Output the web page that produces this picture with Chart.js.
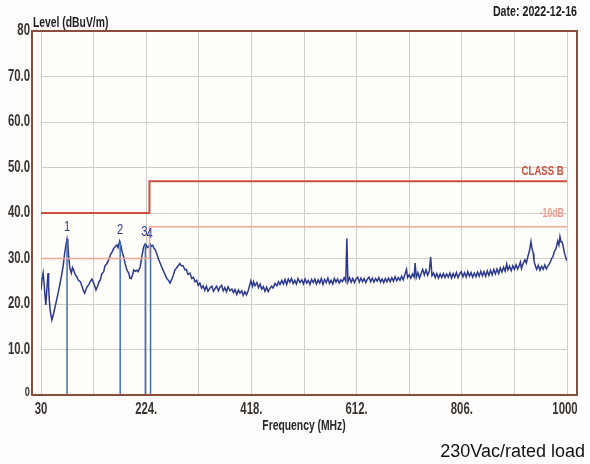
<!DOCTYPE html>
<html>
<head>
<meta charset="utf-8">
<script src="https://cdn.jsdelivr.net/npm/chart.js@4"></script>
<style>
  html, body { margin: 0; padding: 0; background: #fefdfb; }
  #emiChart { display: block; }
</style>
</head>
<body>
<canvas id="emiChart" width="590" height="464"></canvas>
<script>
const freqs = [
  30, 32, 34, 36, 38, 39, 41, 43, 44, 45.3, 47, 50, 53, 56, 59, 62.6, 65, 68.7, 71, 73.6,
  76, 78, 79.5, 81, 83, 86, 88, 90, 93, 96, 99, 102.5, 106, 108, 110.5, 113, 115, 118, 121, 124,
  127, 129, 131.4, 134, 137, 139.4, 142, 145.6, 148, 151, 154.8, 158, 161, 164, 167, 170, 172, 175, 177, 179.5,
  182.4, 185, 188, 191.7, 194, 196.5, 199, 201, 204, 207, 209, 211, 213, 216, 219.4, 222, 224, 226, 228.6, 231,
  233.4, 236, 238, 240.8, 244, 247, 250, 253, 256, 259, 262, 265, 268, 271, 274, 277, 280, 283, 286, 289,
  292, 295.5, 298, 301, 304.7, 308, 311, 314, 317, 320, 323, 326, 329, 332, 335, 338, 341.6, 345, 348, 351,
  354, 357, 360, 363, 366, 369, 372, 375, 378.5, 382, 385, 387.7, 391, 394, 397, 400, 403, 406, 409, 412,
  414, 417, 420, 422, 424.6, 428, 431, 434, 437, 440, 443, 446, 449, 452, 455, 458, 461.5, 465, 468, 470.7,
  474, 477, 480, 483, 486, 489, 492, 495, 498, 501, 504, 507.6, 511, 514, 517, 520, 523, 526, 529, 532,
  535, 538, 541, 544, 547, 550, 553, 556, 559, 562, 565, 568, 571, 574, 577, 580, 583, 586, 589, 592,
  594, 596, 599, 602, 605, 608, 611, 614, 617, 620, 623, 626, 629, 632, 635, 638, 641, 644, 647, 650,
  653, 656, 659, 662, 665, 668, 671, 674, 677, 680, 683, 686, 689, 692, 695, 698, 701, 704, 706, 709,
  712, 715, 718, 720, 722, 725, 728, 731, 734, 737, 740, 743, 746, 748.6, 751, 754, 757, 760, 763, 766,
  769, 772, 775, 778, 781, 784, 787, 790, 793, 796, 799, 802, 805, 808, 811, 814, 817, 820, 823, 826,
  829, 832, 835, 838, 841, 844, 847, 850, 853, 856, 859, 862, 865, 868, 871, 874, 877, 880, 883, 886,
  888.7, 891, 894, 897, 900, 903, 906, 909, 912, 914, 916, 919, 922.5, 925, 928, 931, 933.5, 935, 937.8, 939,
  941, 944, 947, 950, 953, 956, 959, 962, 965, 968, 971.7, 974, 977, 979, 981, 983, 985, 987, 989, 991,
  993, 995, 997, 999, 1000
];
const levels = [
  23.1, 25.5, 26.8, 24.0, 21.0, 19.8, 23.5, 26.8, 24.0, 20.9, 18.5, 16.5, 17.8, 19.4, 21.0, 23.0, 24.5, 26.8, 28.5, 31.1,
  33.0, 34.3, 33.2, 30.4, 28.0, 26.8, 28.0, 27.5, 26.5, 26.0, 25.2, 24.9, 23.8, 23.0, 22.4, 23.2, 23.8, 24.2, 25.0, 25.5,
  24.6, 24.0, 23.1, 23.8, 24.9, 25.3, 26.6, 27.1, 28.4, 28.8, 29.7, 30.8, 31.4, 32.2, 32.6, 33.0, 32.4, 33.8, 33.0, 31.5,
  30.4, 28.9, 27.6, 26.8, 25.7, 25.6, 26.5, 27.5, 27.2, 27.4, 27.1, 27.6, 28.2, 30.5, 32.6, 33.2, 33.0, 32.4, 32.6, 33.2,
  32.7, 32.9, 32.3, 31.9, 30.8, 29.8, 28.9, 28.0, 27.2, 26.4, 25.6, 25.2, 24.6, 25.4, 26.3, 27.5, 27.9, 28.4, 28.9, 28.4,
  28.4, 27.5, 27.6, 26.5, 26.8, 25.6, 25.9, 24.9, 25.2, 24.1, 24.6, 23.5, 24.0, 23.0, 23.9, 22.8, 23.5, 23.9, 22.8, 23.4,
  23.9, 22.9, 23.7, 24.1, 22.9, 23.6, 22.7, 23.8, 22.9, 23.3, 22.5, 23.2, 22.1, 23.1, 22.4, 22.9, 21.9, 22.7, 22.0, 22.9,
  23.8, 25.1, 23.9, 24.9, 24.0, 24.7, 23.6, 24.4, 23.3, 23.8, 22.8, 23.7, 22.7, 23.4, 23.9, 23.5, 24.5, 24.0, 24.9, 24.3,
  25.2, 24.4, 25.4, 24.3, 25.5, 24.8, 25.6, 24.5, 25.2, 24.4, 25.6, 24.7, 25.3, 24.4, 25.5, 24.6, 25.2, 24.3, 25.4, 24.7,
  25.5, 24.4, 25.3, 24.6, 25.6, 24.3, 25.4, 24.7, 25.7, 24.5, 25.2, 24.4, 25.6, 24.8, 25.5, 24.6, 25.3, 24.9, 25.8, 25.0,
  34.4, 24.9, 25.8, 24.8, 25.6, 24.7, 25.5, 25.9, 24.8, 25.7, 24.9, 25.6, 24.7, 25.5, 25.9, 24.9, 25.7, 24.8, 25.6, 25.0,
  25.8, 24.8, 25.5, 24.7, 25.6, 24.9, 25.7, 24.9, 25.8, 25.0, 26.0, 25.1, 25.8, 25.2, 26.1, 25.3, 26.5, 27.6, 25.8, 26.4,
  25.7, 26.6, 25.9, 29.0, 25.8, 26.9, 25.7, 26.7, 27.6, 26.4, 27.5, 26.3, 27.2, 30.3, 26.2, 26.8, 25.8, 26.7, 25.7, 26.6,
  25.8, 26.7, 25.8, 26.6, 25.9, 26.8, 25.7, 26.7, 25.9, 26.9, 25.8, 26.6, 27.1, 26.0, 26.9, 25.9, 27.1, 26.1, 26.9, 25.9,
  26.8, 26.0, 27.0, 26.1, 27.2, 26.2, 27.1, 26.1, 27.3, 26.3, 27.4, 26.4, 27.6, 26.6, 27.7, 26.7, 27.9, 27.0, 28.1, 27.2,
  28.8, 27.5, 28.3, 27.3, 28.4, 27.6, 28.6, 27.7, 28.5, 29.2, 27.8, 28.9, 29.7, 29.0, 30.5, 31.8, 33.7, 32.5, 31.1, 29.6,
  28.6, 27.6, 28.5, 27.4, 28.3, 27.6, 28.6, 27.7, 28.4, 28.9, 30.0, 30.4, 31.6, 32.0, 32.8, 33.8, 33.0, 34.8, 33.6, 33.6,
  32.6, 31.4, 30.5, 29.7, 29.6
];

// limit lines
const limitFreqs = [30, 230, 230, 1000];
const classB = [40, 40, 47, 47];
const classBMargin = [30, 30, 37, 37];

// peak markers
const markerNames = ["1", "2", "3", "4"];
const markerFreqs = [78, 176, 222.4, 232];
const markerLevels = [34.3, 33.8, 33.2, 32.9];

// axes
const xGrid = [30, 127, 224, 321, 418, 515, 612, 709, 806, 903, 1000];
const xLabels = { 30: "30", 224: "224.", 418: "418.", 612: "612.", 806: "806.", 1000: "1000" };

const sans = "'Liberation Sans', Arial, sans-serif";

function pairs(xs, ys) {
  return xs.map((x, i) => ({ x: x, y: ys[i] }));
}

// the scan software uses a condensed face, so squeeze the text a bit
function narrowText(ctx, text, x, y, align, font, sx, color) {
  ctx.save();
  ctx.translate(x, y);
  ctx.scale(sx, 1);
  ctx.font = font;
  ctx.fillStyle = color;
  ctx.textAlign = align;
  ctx.textBaseline = "middle";
  ctx.fillText(text, 0, 0);
  ctx.restore();
}

const markerSets = markerFreqs.map((f, i) => ({
  data: [{ x: f, y: 0 }, { x: f, y: markerLevels[i] }],
  borderColor: "#3f6fb4",
  borderWidth: 1.5,
  pointRadius: 0
}));

const decor = {
  id: "decor",
  beforeDraw(chart) {
    const { ctx, chartArea: a } = chart;
    ctx.save();
    ctx.fillStyle = "#fffefb";
    ctx.fillRect(a.left - 9, a.top, a.right - a.left + 19, a.bottom - a.top);
    ctx.restore();
  },
  afterDatasetsDraw(chart) {
    const { ctx, scales } = chart;
    const x = scales.x, y = scales.y;
    narrowText(ctx, "CLASS B", x.getPixelForValue(994), y.getPixelForValue(49), "right", "bold 12px " + sans, 0.8, "#c9503f");
    narrowText(ctx, "-10dB", x.getPixelForValue(994), y.getPixelForValue(39.8), "right", "bold 12px " + sans, 0.72, "#eb9a8a");
    markerFreqs.forEach((f, i) => {
      narrowText(ctx, markerNames[i], x.getPixelForValue(f) - (i > 1 ? 1 : 0), y.getPixelForValue(markerLevels[i] + 2.5),
        "center", "14px " + sans, 0.8, "#2c3a8a");
    });
  },
  afterDraw(chart) {
    const { ctx, chartArea: a, scales } = chart;
    ctx.save();
    ctx.strokeStyle = "#8a4d3c";
    ctx.lineWidth = 2;
    ctx.strokeRect(a.left - 9, a.top, a.right - a.left + 19, a.bottom - a.top);
    ctx.restore();

    const tickFont = "bold 16px " + sans;
    scales.x.ticks.forEach((t) => {
      const lbl = xLabels[t.value];
      if (lbl) narrowText(ctx, lbl, scales.x.getPixelForValue(t.value) - (t.value === 1000 ? 2 : 0), a.bottom + 15, "center", tickFont, 0.71, "#3a3330");
    });
    scales.y.ticks.forEach((t) => {
      const v = t.value;
      const lbl = v === 0 || v === 80 ? String(v) : v.toFixed(1);
      narrowText(ctx, lbl, a.left - 11, scales.y.getPixelForValue(v) + (v === 0 ? -3 : 0), "right",
        v === 0 ? "bold 13px " + sans : tickFont, 0.71, "#3a3330");
    });

    narrowText(ctx, "Level (dBuV/m)", a.left - 8, 23, "left", "bold 15px " + sans, 0.69, "#1e1e1e");
    narrowText(ctx, "Date: 2022-12-16", 577, 12, "right", "bold 15px " + sans, 0.71, "#1e1e1e");
    narrowText(ctx, "Frequency (MHz)", (a.left + a.right) / 2, 426, "center", "bold 15px " + sans, 0.69, "#2a2624");

    ctx.save();
    ctx.font = "18px " + sans;
    ctx.fillStyle = "#111";
    ctx.textAlign = "right";
    ctx.textBaseline = "middle";
    ctx.fillText("230Vac/rated load", 585, 452);
    ctx.restore();
  }
};

new Chart(document.getElementById("emiChart"), {
  type: "line",
  data: {
    datasets: [
      {
        data: pairs(limitFreqs, classB),
        borderColor: "#c9503f",
        borderWidth: 2,
        pointRadius: 0
      },
      {
        data: pairs(limitFreqs, classBMargin),
        borderColor: "#f0a595",
        borderWidth: 1.5,
        pointRadius: 0
      },
      ...markerSets,
      {
        data: pairs(freqs, levels),
        borderColor: "#2b3990",
        borderWidth: 1.5,
        pointRadius: 0
      }
    ]
  },
  options: {
    responsive: false,
    animation: false,
    layout: { padding: { top: 31, right: 23, left: 0, bottom: 0 } },
    plugins: { legend: { display: false }, tooltip: { enabled: false } },
    scales: {
      x: {
        type: "linear",
        min: 30,
        max: 1000,
        afterBuildTicks: (s) => { s.ticks = xGrid.map((v) => ({ value: v })); },
        afterFit: (s) => { s.height = 69; },
        border: { display: false },
        grid: { color: "#d2cdc8", lineWidth: 1, drawTicks: false },
        ticks: { display: false }
      },
      y: {
        min: 0,
        max: 80,
        afterFit: (s) => { s.width = 41; },
        border: { display: false },
        grid: { color: "#d2cdc8", lineWidth: 1, drawTicks: false },
        ticks: { display: false, stepSize: 10 }
      }
    }
  },
  plugins: [decor]
});
</script>
</body>
</html>
